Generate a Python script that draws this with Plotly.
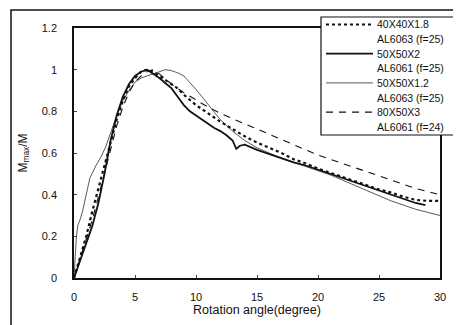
import plotly.graph_objects as go

# Series 1: 40X40X1.8 AL6063 (f=25) - dotted
x1 = [0, 0.5, 1, 1.5, 2, 2.5, 3, 3.5, 4, 4.5, 5, 5.5, 6, 6.5, 7, 7.5, 8, 8.5, 9, 10,
      11, 12, 13, 14, 15, 16, 17, 18, 19, 20, 21, 22, 23, 24, 25, 26, 27, 28, 29, 30]
y1 = [0, 0.1, 0.2, 0.32, 0.43, 0.54, 0.66, 0.76, 0.85, 0.92, 0.96, 0.99, 1.0, 0.99, 0.97,
      0.95, 0.93, 0.91, 0.88, 0.83, 0.79, 0.75, 0.715, 0.68, 0.65, 0.625, 0.6, 0.57, 0.55,
      0.525, 0.505, 0.485, 0.465, 0.445, 0.425, 0.41, 0.39, 0.375, 0.37, 0.37]

# Series 2: 50X50X2 AL6061 (f=25) - thick solid
x2 = [0, 0.5, 1, 1.5, 2, 2.5, 3, 3.5, 4, 4.5, 5, 5.5, 6, 6.5, 7, 7.5, 8, 8.5, 9, 9.5,
      10, 10.5, 11, 11.5, 12, 12.5, 13, 13.3, 13.6, 14, 15, 16, 17, 18, 19, 20, 21, 22,
      23, 24, 25, 26, 27, 28, 28.8]
y2 = [0, 0.08, 0.16, 0.25, 0.36, 0.5, 0.66, 0.78, 0.87, 0.93, 0.97, 0.99, 1.0, 0.98,
      0.96, 0.935, 0.91, 0.87, 0.83, 0.8, 0.78, 0.76, 0.74, 0.72, 0.705, 0.685, 0.66,
      0.62, 0.635, 0.64, 0.615, 0.595, 0.575, 0.555, 0.54, 0.52, 0.5, 0.48, 0.46, 0.44,
      0.42, 0.4, 0.38, 0.36, 0.35]

# Series 3: 50X50X1.2 AL6063 (f=25) - thin solid
x3 = [0, 0.1, 0.2, 0.3, 0.5, 0.7, 1.0, 1.3, 1.8, 2.2, 2.6, 3, 3.5, 4, 4.5, 5, 5.5, 6,
      6.5, 7, 7.5, 8, 8.5, 9, 9.5, 10, 10.5, 11, 11.5, 12, 12.5, 13, 14, 15, 16, 17, 18,
      19, 20, 21, 22, 23, 24, 25, 26, 27, 28, 29, 30]
y3 = [0, 0.12, 0.2, 0.25, 0.28, 0.32, 0.40, 0.48, 0.54, 0.58, 0.63, 0.70, 0.78, 0.85,
      0.90, 0.94, 0.96, 0.97, 0.98, 0.99, 1.0, 0.995, 0.985, 0.97, 0.94, 0.905, 0.87,
      0.83, 0.795, 0.76, 0.73, 0.705, 0.66, 0.625, 0.6, 0.575, 0.555, 0.535, 0.515,
      0.495, 0.47, 0.445, 0.42, 0.395, 0.37, 0.35, 0.33, 0.315, 0.30]

# Series 4: 80X50X3 AL6061 (f=24) - dashed
x4 = [0, 0.5, 1, 1.5, 2, 2.5, 3, 3.5, 4, 4.5, 5, 5.5, 6, 6.5, 7, 7.5, 8, 8.5, 9, 10,
      11, 12, 13, 14, 15, 16, 17, 18, 19, 20, 21, 22, 23, 24, 25, 26, 27, 28, 29, 30]
y4 = [0, 0.09, 0.18, 0.28, 0.39, 0.5, 0.62, 0.73, 0.82, 0.89, 0.94, 0.97, 0.99, 1.0,
      0.98, 0.955, 0.93, 0.91, 0.89, 0.855, 0.82, 0.79, 0.765, 0.74, 0.715, 0.69, 0.665,
      0.64, 0.615, 0.59, 0.57, 0.55, 0.53, 0.51, 0.49, 0.47, 0.45, 0.43, 0.415, 0.40]

names_line1 = ["40X40X1.8", "50X50X2", "50X50X1.2", "80X50X3"]
names_line2 = ["AL6063 (f=25)", "AL6061 (f=25)", "AL6063 (f=25)", "AL6061 (f=24)"]
x_ticks = [0, 5, 10, 15, 20, 25, 30]
y_ticks = [0, 0.2, 0.4, 0.6, 0.8, 1.0, 1.2]
y_tick_labels = ["0", "0.2", "0.4", "0.6", "0.8", "1", "1.2"]

ink = "#111111"
styles = [dict(width=2.2, dash="dot"), dict(width=1.8, dash="solid"),
          dict(width=0.7, dash="solid"), dict(width=1.1, dash="7px,6px")]
series = [(x1, y1), (x2, y2), (x3, y3), (x4, y4)]

fig = go.Figure()
for (xs, ys), st, n1, n2 in zip(series, styles, names_line1, names_line2):
    fig.add_trace(go.Scatter(x=xs, y=ys, mode="lines", name=n1 + " " + n2,
                             line=dict(color=ink, **st), showlegend=False))

font_family = "Liberation Sans, Arial, sans-serif"

# Legend drawn as a boxed key (paper coordinates)
plot_l, plot_r, plot_t, plot_b = 66, 432, 20, 270
def px(v):
    return (v - plot_l) / (plot_r - plot_l)
def py(v):
    return (plot_b - v) / (plot_b - plot_t)

shapes = [
    dict(type="rect", xref="paper", yref="paper",
         x0=px(3), x1=px(458.5), y0=py(320), y1=py(2),
         line=dict(color=ink, width=1.5), fillcolor="rgba(0,0,0,0)", layer="below"),
    dict(type="rect", xref="paper", yref="paper",
         x0=px(313), x1=px(453), y0=py(127), y1=py(9),
         line=dict(color=ink, width=1.2), fillcolor="white", layer="above"),
]
annotations = []
line_h = 14.6
first = 16.5
for i, (st, n1, n2) in enumerate(zip(styles, names_line1, names_line2)):
    yy = first + 2 * i * line_h
    shapes.append(dict(type="line", xref="paper", yref="paper",
                       x0=px(318), x1=px(365), y0=py(yy), y1=py(yy),
                       line=dict(color=ink, width=st["width"], dash=st["dash"]),
                       layer="above"))
    annotations.append(dict(xref="paper", yref="paper", x=px(367), y=py(yy),
                            xanchor="left", yanchor="middle", text=n1,
                            showarrow=False, font=dict(size=10.5, color=ink)))
    annotations.append(dict(xref="paper", yref="paper", x=px(367), y=py(yy + line_h),
                            xanchor="left", yanchor="middle", text=n2,
                            showarrow=False, font=dict(size=10.5, color=ink)))

fig.update_layout(
    width=461, height=325,
    margin=dict(l=66, r=29, t=20, b=55),
    paper_bgcolor="white", plot_bgcolor="white",
    font=dict(family=font_family, size=11, color=ink),
    showlegend=False,
    xaxis=dict(range=[0, 30], tickvals=x_ticks, ticks="inside", ticklen=3,
               showline=True, linecolor=ink, linewidth=1.5, mirror=True,
               showgrid=False, zeroline=False, ticklabelstandoff=8,
               title=dict(text="Rotation angle(degree)", font=dict(size=12.5), standoff=3)),
    yaxis=dict(range=[0, 1.2], tickvals=y_ticks, ticktext=y_tick_labels,
               ticks="inside", ticklen=3,
               showline=True, linecolor=ink, linewidth=1.5, mirror=True,
               showgrid=False, zeroline=False, ticklabelstandoff=13,
               title=dict(text="M<sub>max</sub>/M", font=dict(size=12), standoff=12)),
    shapes=shapes,
    annotations=annotations,
)

fig.write_html("out.html")
